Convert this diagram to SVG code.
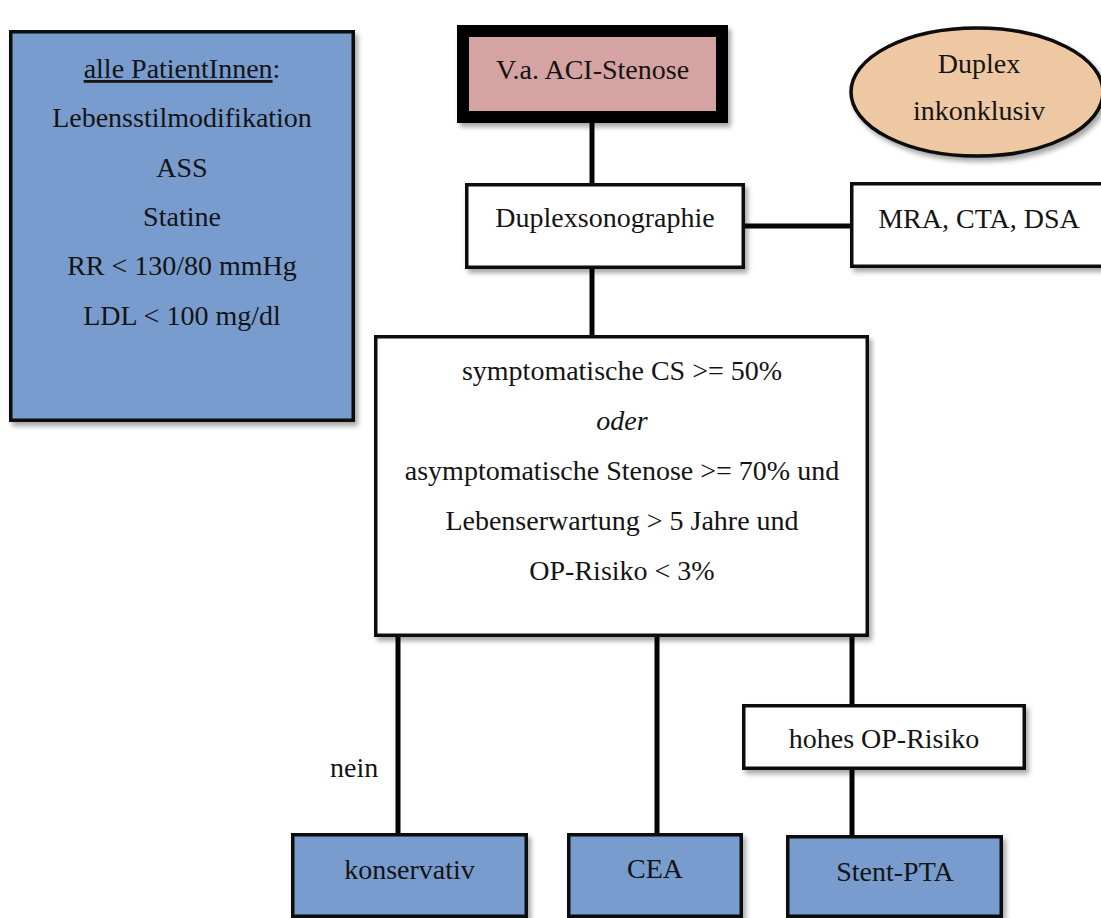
<svg xmlns="http://www.w3.org/2000/svg" width="1101" height="918" viewBox="0 0 1101 918">
  <defs>
    <filter id="shadow" x="-10%" y="-10%" width="130%" height="130%">
      <feDropShadow dx="3" dy="4" stdDeviation="2.5" flood-color="#000" flood-opacity="0.35"/>
    </filter>
  </defs>
  <style>
    text { font-family: "Liberation Serif", "Times New Roman", serif; font-size: 28px; fill: #141414; text-anchor: middle; }
    .box { stroke: #0a0a0a; stroke-width: 3.5; filter: url(#shadow); }
    .blue { fill: #789ccd; }
    .white { fill: #ffffff; }
    .conn line { stroke: #050505; stroke-width: 5; }
  </style>
  <rect width="1101" height="918" fill="#ffffff"/>

  <!-- connectors -->
  <g id="connectors" class="conn">
    <line x1="592" y1="120" x2="592" y2="185"/>
    <line x1="743" y1="226" x2="852" y2="226"/>
    <line x1="592" y1="267" x2="592" y2="337"/>
    <line x1="398" y1="635" x2="398" y2="835"/>
    <line x1="657" y1="635" x2="657" y2="835"/>
    <line x1="852" y1="635" x2="852" y2="706"/>
    <line x1="852" y1="768" x2="852" y2="837"/>
  </g>

  <!-- recommendations for all patients -->
  <g id="node-alle">
    <rect class="box blue" x="10.75" y="31.75" width="342.5" height="388.5"/>
    <text x="182" y="78"><tspan text-decoration="underline">alle PatientInnen</tspan>:</text>
    <text x="182" y="127">Lebensstilmodifikation</text>
    <text x="182" y="177">ASS</text>
    <text x="182" y="226">Statine</text>
    <text x="182" y="275">RR &lt; 130/80 mmHg</text>
    <text x="182" y="325">LDL &lt; 100 mg/dl</text>
  </g>

  <g id="node-verdacht">
    <rect x="463" y="31" width="259" height="86" fill="#d4a3a2" stroke="#050505" stroke-width="12" filter="url(#shadow)"/>
    <text x="592.5" y="79">V.a. ACI-Stenose</text>
  </g>

  <g id="node-inkonklusiv">
    <ellipse cx="977" cy="92" rx="126" ry="64" fill="#edc8a2" stroke="#0a0a0a" stroke-width="3.5" filter="url(#shadow)"/>
    <text x="979" y="73">Duplex</text>
    <text x="979" y="120">inkonklusiv</text>
  </g>

  <g id="node-duplex">
    <rect class="box white" x="466.75" y="184.75" width="276.5" height="82.5"/>
    <text x="605" y="227">Duplexsonographie</text>
  </g>

  <g id="node-bildgebung">
    <rect class="box white" x="851.75" y="183.75" width="262" height="82.5"/>
    <text x="979" y="228">MRA, CTA, DSA</text>
  </g>

  <g id="node-kriterien">
    <rect class="box white" x="375.75" y="336.75" width="491.5" height="298.5"/>
    <text x="622" y="380">symptomatische CS &gt;= 50%</text>
    <text x="622" y="430" font-style="italic">oder</text>
    <text x="622" y="480">asymptomatische Stenose &gt;= 70% und</text>
    <text x="622" y="530">Lebenserwartung &gt; 5 Jahre und</text>
    <text x="622" y="580">OP-Risiko &lt; 3%</text>
  </g>

  <g id="label-nein">
    <text x="330" y="777" style="text-anchor:start">nein</text>
  </g>

  <g id="node-hohes-risiko">
    <rect class="box white" x="743.75" y="705.75" width="280.5" height="62.5"/>
    <text x="884" y="748">hohes OP-Risiko</text>
  </g>

  <g id="node-konservativ">
    <rect class="box blue" x="292.75" y="834.75" width="233.5" height="81.5"/>
    <text x="409.5" y="879">konservativ</text>
  </g>

  <g id="node-cea">
    <rect class="box blue" x="568.75" y="834.75" width="172.5" height="81.5"/>
    <text x="655" y="878">CEA</text>
  </g>

  <g id="node-stent">
    <rect class="box blue" x="787.75" y="836.75" width="213.5" height="79.5"/>
    <text x="895" y="881">Stent-PTA</text>
  </g>
</svg>
